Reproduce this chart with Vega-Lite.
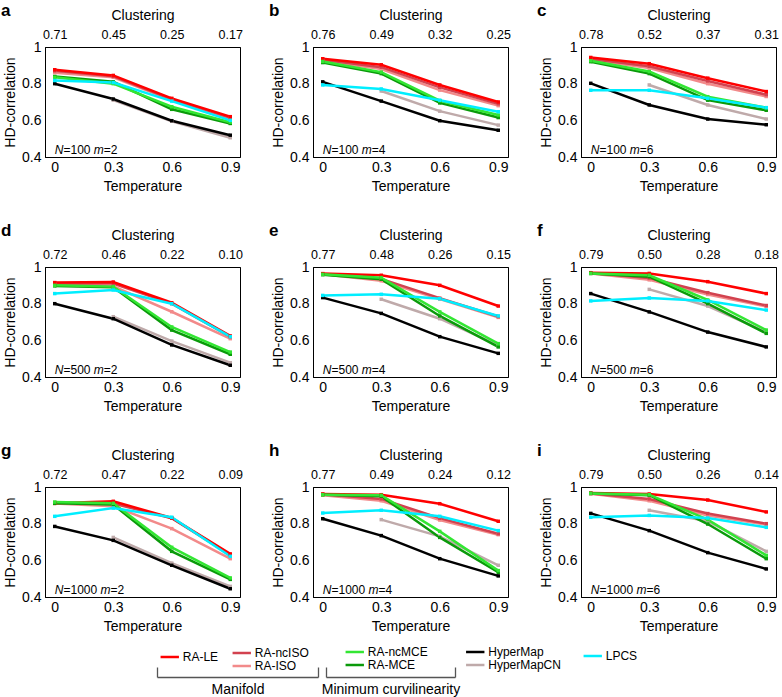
{
"$schema":"https://vega.github.io/schema/vega-lite/v6.json",
"padding":{"left":0,"top":1,"right":0,"bottom":0},
"bounds":"flush",
"spacing":220,
"datasets":{"main":[
{"p":"a","m":"HyperMapCN","T":0.3,"r":0.71},{"p":"a","m":"HyperMapCN","T":0.6,"r":0.595},{"p":"a","m":"HyperMapCN","T":0.9,"r":0.505},
{"p":"a","m":"HyperMap","T":0,"r":0.80},{"p":"a","m":"HyperMap","T":0.3,"r":0.716},{"p":"a","m":"HyperMap","T":0.6,"r":0.598},{"p":"a","m":"HyperMap","T":0.9,"r":0.519},
{"p":"a","m":"RA-ISO","T":0,"r":0.86},{"p":"a","m":"RA-ISO","T":0.3,"r":0.835},{"p":"a","m":"RA-ISO","T":0.6,"r":0.71},{"p":"a","m":"RA-ISO","T":0.9,"r":0.61},
{"p":"a","m":"RA-ncISO","T":0,"r":0.87},{"p":"a","m":"RA-ncISO","T":0.3,"r":0.84},{"p":"a","m":"RA-ncISO","T":0.6,"r":0.715},{"p":"a","m":"RA-ncISO","T":0.9,"r":0.615},
{"p":"a","m":"RA-LE","T":0,"r":0.876},{"p":"a","m":"RA-LE","T":0.3,"r":0.845},{"p":"a","m":"RA-LE","T":0.6,"r":0.72},{"p":"a","m":"RA-LE","T":0.9,"r":0.62},
{"p":"a","m":"RA-MCE","T":0,"r":0.839},{"p":"a","m":"RA-MCE","T":0.3,"r":0.81},{"p":"a","m":"RA-MCE","T":0.6,"r":0.66},{"p":"a","m":"RA-MCE","T":0.9,"r":0.583},
{"p":"a","m":"RA-ncMCE","T":0,"r":0.835},{"p":"a","m":"RA-ncMCE","T":0.3,"r":0.80},{"p":"a","m":"RA-ncMCE","T":0.6,"r":0.674},{"p":"a","m":"RA-ncMCE","T":0.9,"r":0.59},
{"p":"a","m":"LPCS","T":0,"r":0.817},{"p":"a","m":"LPCS","T":0.3,"r":0.806},{"p":"a","m":"LPCS","T":0.6,"r":0.705},{"p":"a","m":"LPCS","T":0.9,"r":0.60},
{"p":"b","m":"HyperMapCN","T":0.3,"r":0.76},{"p":"b","m":"HyperMapCN","T":0.6,"r":0.65},{"p":"b","m":"HyperMapCN","T":0.9,"r":0.574},
{"p":"b","m":"HyperMap","T":0,"r":0.81},{"p":"b","m":"HyperMap","T":0.3,"r":0.705},{"p":"b","m":"HyperMap","T":0.6,"r":0.598},{"p":"b","m":"HyperMap","T":0.9,"r":0.546},
{"p":"b","m":"RA-ISO","T":0,"r":0.925},{"p":"b","m":"RA-ISO","T":0.3,"r":0.88},{"p":"b","m":"RA-ISO","T":0.6,"r":0.765},{"p":"b","m":"RA-ISO","T":0.9,"r":0.68},
{"p":"b","m":"RA-ncISO","T":0,"r":0.93},{"p":"b","m":"RA-ncISO","T":0.3,"r":0.89},{"p":"b","m":"RA-ncISO","T":0.6,"r":0.78},{"p":"b","m":"RA-ncISO","T":0.9,"r":0.69},
{"p":"b","m":"RA-LE","T":0,"r":0.936},{"p":"b","m":"RA-LE","T":0.3,"r":0.903},{"p":"b","m":"RA-LE","T":0.6,"r":0.793},{"p":"b","m":"RA-LE","T":0.9,"r":0.70},
{"p":"b","m":"RA-MCE","T":0,"r":0.915},{"p":"b","m":"RA-MCE","T":0.3,"r":0.855},{"p":"b","m":"RA-MCE","T":0.6,"r":0.695},{"p":"b","m":"RA-MCE","T":0.9,"r":0.615},
{"p":"b","m":"RA-ncMCE","T":0,"r":0.921},{"p":"b","m":"RA-ncMCE","T":0.3,"r":0.863},{"p":"b","m":"RA-ncMCE","T":0.6,"r":0.707},{"p":"b","m":"RA-ncMCE","T":0.9,"r":0.629},
{"p":"b","m":"LPCS","T":0,"r":0.793},{"p":"b","m":"LPCS","T":0.3,"r":0.771},{"p":"b","m":"LPCS","T":0.6,"r":0.71},{"p":"b","m":"LPCS","T":0.9,"r":0.647},
{"p":"c","m":"HyperMapCN","T":0.3,"r":0.793},{"p":"c","m":"HyperMapCN","T":0.6,"r":0.684},{"p":"c","m":"HyperMapCN","T":0.9,"r":0.607},
{"p":"c","m":"HyperMap","T":0,"r":0.802},{"p":"c","m":"HyperMap","T":0.3,"r":0.684},{"p":"c","m":"HyperMap","T":0.6,"r":0.607},{"p":"c","m":"HyperMap","T":0.9,"r":0.576},
{"p":"c","m":"RA-ISO","T":0,"r":0.93},{"p":"c","m":"RA-ISO","T":0.3,"r":0.885},{"p":"c","m":"RA-ISO","T":0.6,"r":0.80},{"p":"c","m":"RA-ISO","T":0.9,"r":0.73},
{"p":"c","m":"RA-ncISO","T":0,"r":0.935},{"p":"c","m":"RA-ncISO","T":0.3,"r":0.895},{"p":"c","m":"RA-ncISO","T":0.6,"r":0.815},{"p":"c","m":"RA-ncISO","T":0.9,"r":0.74},
{"p":"c","m":"RA-LE","T":0,"r":0.943},{"p":"c","m":"RA-LE","T":0.3,"r":0.909},{"p":"c","m":"RA-LE","T":0.6,"r":0.83},{"p":"c","m":"RA-LE","T":0.9,"r":0.757},
{"p":"c","m":"RA-MCE","T":0,"r":0.92},{"p":"c","m":"RA-MCE","T":0.3,"r":0.855},{"p":"c","m":"RA-MCE","T":0.6,"r":0.71},{"p":"c","m":"RA-MCE","T":0.9,"r":0.655},
{"p":"c","m":"RA-ncMCE","T":0,"r":0.925},{"p":"c","m":"RA-ncMCE","T":0.3,"r":0.866},{"p":"c","m":"RA-ncMCE","T":0.6,"r":0.729},{"p":"c","m":"RA-ncMCE","T":0.9,"r":0.669},
{"p":"c","m":"LPCS","T":0,"r":0.764},{"p":"c","m":"LPCS","T":0.3,"r":0.764},{"p":"c","m":"LPCS","T":0.6,"r":0.72},{"p":"c","m":"LPCS","T":0.9,"r":0.669},
{"p":"d","m":"HyperMapCN","T":0.3,"r":0.729},{"p":"d","m":"HyperMapCN","T":0.6,"r":0.596},{"p":"d","m":"HyperMapCN","T":0.9,"r":0.478},
{"p":"d","m":"HyperMap","T":0,"r":0.80},{"p":"d","m":"HyperMap","T":0.3,"r":0.718},{"p":"d","m":"HyperMap","T":0.6,"r":0.575},{"p":"d","m":"HyperMap","T":0.9,"r":0.464},
{"p":"d","m":"RA-ISO","T":0,"r":0.905},{"p":"d","m":"RA-ISO","T":0.3,"r":0.895},{"p":"d","m":"RA-ISO","T":0.6,"r":0.756},{"p":"d","m":"RA-ISO","T":0.9,"r":0.609},
{"p":"d","m":"RA-ncISO","T":0,"r":0.91},{"p":"d","m":"RA-ncISO","T":0.3,"r":0.91},{"p":"d","m":"RA-ncISO","T":0.6,"r":0.80},{"p":"d","m":"RA-ncISO","T":0.9,"r":0.62},
{"p":"d","m":"RA-LE","T":0,"r":0.915},{"p":"d","m":"RA-LE","T":0.3,"r":0.918},{"p":"d","m":"RA-LE","T":0.6,"r":0.805},{"p":"d","m":"RA-LE","T":0.9,"r":0.624},
{"p":"d","m":"RA-MCE","T":0,"r":0.897},{"p":"d","m":"RA-MCE","T":0.3,"r":0.89},{"p":"d","m":"RA-MCE","T":0.6,"r":0.656},{"p":"d","m":"RA-MCE","T":0.9,"r":0.524},
{"p":"d","m":"RA-ncMCE","T":0,"r":0.90},{"p":"d","m":"RA-ncMCE","T":0.3,"r":0.893},{"p":"d","m":"RA-ncMCE","T":0.6,"r":0.673},{"p":"d","m":"RA-ncMCE","T":0.9,"r":0.536},
{"p":"d","m":"LPCS","T":0,"r":0.855},{"p":"d","m":"LPCS","T":0.3,"r":0.875},{"p":"d","m":"LPCS","T":0.6,"r":0.80},{"p":"d","m":"LPCS","T":0.9,"r":0.62},
{"p":"e","m":"HyperMapCN","T":0.3,"r":0.824},{"p":"e","m":"HyperMapCN","T":0.6,"r":0.718},{"p":"e","m":"HyperMapCN","T":0.9,"r":0.573},
{"p":"e","m":"HyperMap","T":0,"r":0.833},{"p":"e","m":"HyperMap","T":0.3,"r":0.747},{"p":"e","m":"HyperMap","T":0.6,"r":0.62},{"p":"e","m":"HyperMap","T":0.9,"r":0.529},
{"p":"e","m":"RA-ISO","T":0,"r":0.96},{"p":"e","m":"RA-ISO","T":0.3,"r":0.925},{"p":"e","m":"RA-ISO","T":0.6,"r":0.825},{"p":"e","m":"RA-ISO","T":0.9,"r":0.725},
{"p":"e","m":"RA-ncISO","T":0,"r":0.962},{"p":"e","m":"RA-ncISO","T":0.3,"r":0.935},{"p":"e","m":"RA-ncISO","T":0.6,"r":0.83},{"p":"e","m":"RA-ncISO","T":0.9,"r":0.73},
{"p":"e","m":"RA-LE","T":0,"r":0.964},{"p":"e","m":"RA-LE","T":0.3,"r":0.955},{"p":"e","m":"RA-LE","T":0.6,"r":0.90},{"p":"e","m":"RA-LE","T":0.9,"r":0.787},
{"p":"e","m":"RA-MCE","T":0,"r":0.958},{"p":"e","m":"RA-MCE","T":0.3,"r":0.933},{"p":"e","m":"RA-MCE","T":0.6,"r":0.733},{"p":"e","m":"RA-MCE","T":0.9,"r":0.564},
{"p":"e","m":"RA-ncMCE","T":0,"r":0.96},{"p":"e","m":"RA-ncMCE","T":0.3,"r":0.942},{"p":"e","m":"RA-ncMCE","T":0.6,"r":0.755},{"p":"e","m":"RA-ncMCE","T":0.9,"r":0.582},
{"p":"e","m":"LPCS","T":0,"r":0.845},{"p":"e","m":"LPCS","T":0.3,"r":0.851},{"p":"e","m":"LPCS","T":0.6,"r":0.827},{"p":"e","m":"LPCS","T":0.9,"r":0.733},
{"p":"f","m":"HyperMapCN","T":0.3,"r":0.878},{"p":"f","m":"HyperMapCN","T":0.6,"r":0.787},{"p":"f","m":"HyperMapCN","T":0.9,"r":0.645},
{"p":"f","m":"HyperMap","T":0,"r":0.855},{"p":"f","m":"HyperMap","T":0.3,"r":0.755},{"p":"f","m":"HyperMap","T":0.6,"r":0.645},{"p":"f","m":"HyperMap","T":0.9,"r":0.564},
{"p":"f","m":"RA-ISO","T":0,"r":0.965},{"p":"f","m":"RA-ISO","T":0.3,"r":0.93},{"p":"f","m":"RA-ISO","T":0.6,"r":0.85},{"p":"f","m":"RA-ISO","T":0.9,"r":0.785},
{"p":"f","m":"RA-ncISO","T":0,"r":0.967},{"p":"f","m":"RA-ncISO","T":0.3,"r":0.94},{"p":"f","m":"RA-ncISO","T":0.6,"r":0.86},{"p":"f","m":"RA-ncISO","T":0.9,"r":0.79},
{"p":"f","m":"RA-LE","T":0,"r":0.969},{"p":"f","m":"RA-LE","T":0.3,"r":0.965},{"p":"f","m":"RA-LE","T":0.6,"r":0.92},{"p":"f","m":"RA-LE","T":0.9,"r":0.855},
{"p":"f","m":"RA-MCE","T":0,"r":0.965},{"p":"f","m":"RA-MCE","T":0.3,"r":0.947},{"p":"f","m":"RA-MCE","T":0.6,"r":0.80},{"p":"f","m":"RA-MCE","T":0.9,"r":0.638},
{"p":"f","m":"RA-ncMCE","T":0,"r":0.965},{"p":"f","m":"RA-ncMCE","T":0.3,"r":0.955},{"p":"f","m":"RA-ncMCE","T":0.6,"r":0.82},{"p":"f","m":"RA-ncMCE","T":0.9,"r":0.656},
{"p":"f","m":"LPCS","T":0,"r":0.815},{"p":"f","m":"LPCS","T":0.3,"r":0.831},{"p":"f","m":"LPCS","T":0.6,"r":0.815},{"p":"f","m":"LPCS","T":0.9,"r":0.765},
{"p":"g","m":"HyperMapCN","T":0.3,"r":0.725},{"p":"g","m":"HyperMapCN","T":0.6,"r":0.585},{"p":"g","m":"HyperMapCN","T":0.9,"r":0.458},
{"p":"g","m":"HyperMap","T":0,"r":0.785},{"p":"g","m":"HyperMap","T":0.3,"r":0.709},{"p":"g","m":"HyperMap","T":0.6,"r":0.573},{"p":"g","m":"HyperMap","T":0.9,"r":0.445},
{"p":"g","m":"RA-ISO","T":0,"r":0.91},{"p":"g","m":"RA-ISO","T":0.3,"r":0.895},{"p":"g","m":"RA-ISO","T":0.6,"r":0.773},{"p":"g","m":"RA-ISO","T":0.9,"r":0.609},
{"p":"g","m":"RA-ncISO","T":0,"r":0.915},{"p":"g","m":"RA-ncISO","T":0.3,"r":0.91},{"p":"g","m":"RA-ncISO","T":0.6,"r":0.83},{"p":"g","m":"RA-ncISO","T":0.9,"r":0.63},
{"p":"g","m":"RA-LE","T":0,"r":0.911},{"p":"g","m":"RA-LE","T":0.3,"r":0.922},{"p":"g","m":"RA-LE","T":0.6,"r":0.831},{"p":"g","m":"RA-LE","T":0.9,"r":0.635},
{"p":"g","m":"RA-MCE","T":0,"r":0.911},{"p":"g","m":"RA-MCE","T":0.3,"r":0.904},{"p":"g","m":"RA-MCE","T":0.6,"r":0.649},{"p":"g","m":"RA-MCE","T":0.9,"r":0.496},
{"p":"g","m":"RA-ncMCE","T":0,"r":0.918},{"p":"g","m":"RA-ncMCE","T":0.3,"r":0.911},{"p":"g","m":"RA-ncMCE","T":0.6,"r":0.671},{"p":"g","m":"RA-ncMCE","T":0.9,"r":0.504},
{"p":"g","m":"LPCS","T":0,"r":0.84},{"p":"g","m":"LPCS","T":0.3,"r":0.885},{"p":"g","m":"LPCS","T":0.6,"r":0.835},{"p":"g","m":"LPCS","T":0.9,"r":0.622},
{"p":"h","m":"HyperMapCN","T":0.3,"r":0.822},{"p":"h","m":"HyperMapCN","T":0.6,"r":0.731},{"p":"h","m":"HyperMapCN","T":0.9,"r":0.573},
{"p":"h","m":"HyperMap","T":0,"r":0.827},{"p":"h","m":"HyperMap","T":0.3,"r":0.735},{"p":"h","m":"HyperMap","T":0.6,"r":0.609},{"p":"h","m":"HyperMap","T":0.9,"r":0.515},
{"p":"h","m":"RA-ISO","T":0,"r":0.955},{"p":"h","m":"RA-ISO","T":0.3,"r":0.925},{"p":"h","m":"RA-ISO","T":0.6,"r":0.82},{"p":"h","m":"RA-ISO","T":0.9,"r":0.74},
{"p":"h","m":"RA-ncISO","T":0,"r":0.96},{"p":"h","m":"RA-ncISO","T":0.3,"r":0.935},{"p":"h","m":"RA-ncISO","T":0.6,"r":0.83},{"p":"h","m":"RA-ncISO","T":0.9,"r":0.745},
{"p":"h","m":"RA-LE","T":0,"r":0.962},{"p":"h","m":"RA-LE","T":0.3,"r":0.958},{"p":"h","m":"RA-LE","T":0.6,"r":0.909},{"p":"h","m":"RA-LE","T":0.9,"r":0.813},
{"p":"h","m":"RA-MCE","T":0,"r":0.958},{"p":"h","m":"RA-MCE","T":0.3,"r":0.95},{"p":"h","m":"RA-MCE","T":0.6,"r":0.725},{"p":"h","m":"RA-MCE","T":0.9,"r":0.535},
{"p":"h","m":"RA-ncMCE","T":0,"r":0.958},{"p":"h","m":"RA-ncMCE","T":0.3,"r":0.955},{"p":"h","m":"RA-ncMCE","T":0.6,"r":0.758},{"p":"h","m":"RA-ncMCE","T":0.9,"r":0.544},
{"p":"h","m":"LPCS","T":0,"r":0.858},{"p":"h","m":"LPCS","T":0.3,"r":0.873},{"p":"h","m":"LPCS","T":0.6,"r":0.84},{"p":"h","m":"LPCS","T":0.9,"r":0.762},
{"p":"i","m":"HyperMapCN","T":0.3,"r":0.873},{"p":"i","m":"HyperMapCN","T":0.6,"r":0.813},{"p":"i","m":"HyperMapCN","T":0.9,"r":0.649},
{"p":"i","m":"HyperMap","T":0,"r":0.856},{"p":"i","m":"HyperMap","T":0.3,"r":0.762},{"p":"i","m":"HyperMap","T":0.6,"r":0.642},{"p":"i","m":"HyperMap","T":0.9,"r":0.553},
{"p":"i","m":"RA-ISO","T":0,"r":0.963},{"p":"i","m":"RA-ISO","T":0.3,"r":0.925},{"p":"i","m":"RA-ISO","T":0.6,"r":0.845},{"p":"i","m":"RA-ISO","T":0.9,"r":0.795},
{"p":"i","m":"RA-ncISO","T":0,"r":0.965},{"p":"i","m":"RA-ncISO","T":0.3,"r":0.935},{"p":"i","m":"RA-ncISO","T":0.6,"r":0.855},{"p":"i","m":"RA-ncISO","T":0.9,"r":0.80},
{"p":"i","m":"RA-LE","T":0,"r":0.967},{"p":"i","m":"RA-LE","T":0.3,"r":0.962},{"p":"i","m":"RA-LE","T":0.6,"r":0.929},{"p":"i","m":"RA-LE","T":0.9,"r":0.864},
{"p":"i","m":"RA-MCE","T":0,"r":0.965},{"p":"i","m":"RA-MCE","T":0.3,"r":0.955},{"p":"i","m":"RA-MCE","T":0.6,"r":0.798},{"p":"i","m":"RA-MCE","T":0.9,"r":0.609},
{"p":"i","m":"RA-ncMCE","T":0,"r":0.965},{"p":"i","m":"RA-ncMCE","T":0.3,"r":0.958},{"p":"i","m":"RA-ncMCE","T":0.6,"r":0.822},{"p":"i","m":"RA-ncMCE","T":0.9,"r":0.627},
{"p":"i","m":"LPCS","T":0,"r":0.835},{"p":"i","m":"LPCS","T":0.3,"r":0.845},{"p":"i","m":"LPCS","T":0.6,"r":0.831},{"p":"i","m":"LPCS","T":0.9,"r":0.78}
]},
"vconcat":[
{"hconcat":[
{"title":"a","width":195,"height":110,"data":{"values":[{"a":"N","b":"=100","c":"m","d":"=2"}]},"layer":[
 {"data":{"name":"main"},"transform":[{"filter":"datum.p=='a'"}],"mark":{"type":"line","strokeWidth":2.5},"encoding":{"x":{"field":"T","type":"quantitative","scale":{"domain":[-0.05,0.95],"nice":false,"zero":false},"axis":{"orient":"bottom","title":"Temperature","values":[0,0.3,0.6,0.9],"format":"~g"}},"y":{"field":"r","type":"quantitative","scale":{"domain":[0.4,1],"nice":false,"zero":false},"axis":{"orient":"left","title":"HD-correlation","values":[0.4,0.6,0.8,1],"format":"~g"}},"color":{"field":"m","type":"nominal","scale":{"domain":["RA-LE","RA-ncISO","RA-ISO","RA-ncMCE","RA-MCE","HyperMap","HyperMapCN","LPCS"],"range":["#ff0000","#d2424f","#f28a8a","#33e633","#0a9a0a","#000000","#bfaaaa","#00eeff"]},"legend":null}}},
 {"data":{"name":"main"},"transform":[{"filter":"datum.p=='a'"}],"mark":{"type":"square","size":12,"opacity":1},"encoding":{"x":{"field":"T","type":"quantitative","scale":{"domain":[-0.05,0.95],"nice":false,"zero":false},"axis":{"orient":"top","title":"Clustering","values":[0,0.3,0.6,0.9],"format":"~g","labelExpr":"datum.label=='0'?'0.71':datum.label=='0.3'?'0.45':datum.label=='0.6'?'0.25':'0.17'"}},"y":{"field":"r","type":"quantitative","scale":{"domain":[0.4,1],"nice":false,"zero":false},"axis":null},"color":{"field":"m","type":"nominal","legend":null}}},
 {"mark":{"type":"text","align":"left","fontSize":12,"fontStyle":"italic"},"encoding":{"x":{"datum":0,"type":"quantitative","scale":{"domain":[-0.05,0.95],"nice":false,"zero":false},"axis":null},"y":{"datum":0.44,"type":"quantitative","scale":{"domain":[0.4,1],"nice":false,"zero":false},"axis":null},"text":{"field":"a"}}},
 {"mark":{"type":"text","align":"left","fontSize":12,"dx":8.7},"encoding":{"x":{"datum":0,"type":"quantitative","scale":{"domain":[-0.05,0.95],"nice":false,"zero":false},"axis":null},"y":{"datum":0.44,"type":"quantitative","scale":{"domain":[0.4,1],"nice":false,"zero":false},"axis":null},"text":{"field":"b"}}},
 {"mark":{"type":"text","align":"left","fontSize":12,"dx":39.1,"fontStyle":"italic"},"encoding":{"x":{"datum":0,"type":"quantitative","scale":{"domain":[-0.05,0.95],"nice":false,"zero":false},"axis":null},"y":{"datum":0.44,"type":"quantitative","scale":{"domain":[0.4,1],"nice":false,"zero":false},"axis":null},"text":{"field":"c"}}},
 {"mark":{"type":"text","align":"left","fontSize":12,"dx":49.1},"encoding":{"x":{"datum":0,"type":"quantitative","scale":{"domain":[-0.05,0.95],"nice":false,"zero":false},"axis":null},"y":{"datum":0.44,"type":"quantitative","scale":{"domain":[0.4,1],"nice":false,"zero":false},"axis":null},"text":{"field":"d"}}}
],"resolve":{"axis":{"x":"independent","y":"independent"}}},
{"title":"b","width":195,"height":110,"data":{"values":[{"a":"N","b":"=100","c":"m","d":"=4"}]},"layer":[
 {"data":{"name":"main"},"transform":[{"filter":"datum.p=='b'"}],"mark":{"type":"line","strokeWidth":2.5},"encoding":{"x":{"field":"T","type":"quantitative","scale":{"domain":[-0.05,0.95],"nice":false,"zero":false},"axis":{"orient":"bottom","title":"Temperature","values":[0,0.3,0.6,0.9],"format":"~g"}},"y":{"field":"r","type":"quantitative","scale":{"domain":[0.4,1],"nice":false,"zero":false},"axis":{"orient":"left","title":"HD-correlation","values":[0.4,0.6,0.8,1],"format":"~g"}},"color":{"field":"m","type":"nominal","scale":{"domain":["RA-LE","RA-ncISO","RA-ISO","RA-ncMCE","RA-MCE","HyperMap","HyperMapCN","LPCS"],"range":["#ff0000","#d2424f","#f28a8a","#33e633","#0a9a0a","#000000","#bfaaaa","#00eeff"]},"legend":null}}},
 {"data":{"name":"main"},"transform":[{"filter":"datum.p=='b'"}],"mark":{"type":"square","size":12,"opacity":1},"encoding":{"x":{"field":"T","type":"quantitative","scale":{"domain":[-0.05,0.95],"nice":false,"zero":false},"axis":{"orient":"top","title":"Clustering","values":[0,0.3,0.6,0.9],"format":"~g","labelExpr":"datum.label=='0'?'0.76':datum.label=='0.3'?'0.49':datum.label=='0.6'?'0.32':'0.25'"}},"y":{"field":"r","type":"quantitative","scale":{"domain":[0.4,1],"nice":false,"zero":false},"axis":null},"color":{"field":"m","type":"nominal","legend":null}}},
 {"mark":{"type":"text","align":"left","fontSize":12,"fontStyle":"italic"},"encoding":{"x":{"datum":0,"type":"quantitative","scale":{"domain":[-0.05,0.95],"nice":false,"zero":false},"axis":null},"y":{"datum":0.44,"type":"quantitative","scale":{"domain":[0.4,1],"nice":false,"zero":false},"axis":null},"text":{"field":"a"}}},
 {"mark":{"type":"text","align":"left","fontSize":12,"dx":8.7},"encoding":{"x":{"datum":0,"type":"quantitative","scale":{"domain":[-0.05,0.95],"nice":false,"zero":false},"axis":null},"y":{"datum":0.44,"type":"quantitative","scale":{"domain":[0.4,1],"nice":false,"zero":false},"axis":null},"text":{"field":"b"}}},
 {"mark":{"type":"text","align":"left","fontSize":12,"dx":39.1,"fontStyle":"italic"},"encoding":{"x":{"datum":0,"type":"quantitative","scale":{"domain":[-0.05,0.95],"nice":false,"zero":false},"axis":null},"y":{"datum":0.44,"type":"quantitative","scale":{"domain":[0.4,1],"nice":false,"zero":false},"axis":null},"text":{"field":"c"}}},
 {"mark":{"type":"text","align":"left","fontSize":12,"dx":49.1},"encoding":{"x":{"datum":0,"type":"quantitative","scale":{"domain":[-0.05,0.95],"nice":false,"zero":false},"axis":null},"y":{"datum":0.44,"type":"quantitative","scale":{"domain":[0.4,1],"nice":false,"zero":false},"axis":null},"text":{"field":"d"}}}
],"resolve":{"axis":{"x":"independent","y":"independent"}}},
{"title":"c","width":195,"height":110,"data":{"values":[{"a":"N","b":"=100","c":"m","d":"=6"}]},"layer":[
 {"data":{"name":"main"},"transform":[{"filter":"datum.p=='c'"}],"mark":{"type":"line","strokeWidth":2.5},"encoding":{"x":{"field":"T","type":"quantitative","scale":{"domain":[-0.05,0.95],"nice":false,"zero":false},"axis":{"orient":"bottom","title":"Temperature","values":[0,0.3,0.6,0.9],"format":"~g"}},"y":{"field":"r","type":"quantitative","scale":{"domain":[0.4,1],"nice":false,"zero":false},"axis":{"orient":"left","title":"HD-correlation","values":[0.4,0.6,0.8,1],"format":"~g"}},"color":{"field":"m","type":"nominal","scale":{"domain":["RA-LE","RA-ncISO","RA-ISO","RA-ncMCE","RA-MCE","HyperMap","HyperMapCN","LPCS"],"range":["#ff0000","#d2424f","#f28a8a","#33e633","#0a9a0a","#000000","#bfaaaa","#00eeff"]},"legend":null}}},
 {"data":{"name":"main"},"transform":[{"filter":"datum.p=='c'"}],"mark":{"type":"square","size":12,"opacity":1},"encoding":{"x":{"field":"T","type":"quantitative","scale":{"domain":[-0.05,0.95],"nice":false,"zero":false},"axis":{"orient":"top","title":"Clustering","values":[0,0.3,0.6,0.9],"format":"~g","labelExpr":"datum.label=='0'?'0.78':datum.label=='0.3'?'0.52':datum.label=='0.6'?'0.37':'0.31'"}},"y":{"field":"r","type":"quantitative","scale":{"domain":[0.4,1],"nice":false,"zero":false},"axis":null},"color":{"field":"m","type":"nominal","legend":null}}},
 {"mark":{"type":"text","align":"left","fontSize":12,"fontStyle":"italic"},"encoding":{"x":{"datum":0,"type":"quantitative","scale":{"domain":[-0.05,0.95],"nice":false,"zero":false},"axis":null},"y":{"datum":0.44,"type":"quantitative","scale":{"domain":[0.4,1],"nice":false,"zero":false},"axis":null},"text":{"field":"a"}}},
 {"mark":{"type":"text","align":"left","fontSize":12,"dx":8.7},"encoding":{"x":{"datum":0,"type":"quantitative","scale":{"domain":[-0.05,0.95],"nice":false,"zero":false},"axis":null},"y":{"datum":0.44,"type":"quantitative","scale":{"domain":[0.4,1],"nice":false,"zero":false},"axis":null},"text":{"field":"b"}}},
 {"mark":{"type":"text","align":"left","fontSize":12,"dx":39.1,"fontStyle":"italic"},"encoding":{"x":{"datum":0,"type":"quantitative","scale":{"domain":[-0.05,0.95],"nice":false,"zero":false},"axis":null},"y":{"datum":0.44,"type":"quantitative","scale":{"domain":[0.4,1],"nice":false,"zero":false},"axis":null},"text":{"field":"c"}}},
 {"mark":{"type":"text","align":"left","fontSize":12,"dx":49.1},"encoding":{"x":{"datum":0,"type":"quantitative","scale":{"domain":[-0.05,0.95],"nice":false,"zero":false},"axis":null},"y":{"datum":0.44,"type":"quantitative","scale":{"domain":[0.4,1],"nice":false,"zero":false},"axis":null},"text":{"field":"d"}}}
],"resolve":{"axis":{"x":"independent","y":"independent"}}}
],"spacing":73,"bounds":"flush"},
{"hconcat":[
{"title":"d","width":195,"height":110,"data":{"values":[{"a":"N","b":"=500","c":"m","d":"=2"}]},"layer":[
 {"data":{"name":"main"},"transform":[{"filter":"datum.p=='d'"}],"mark":{"type":"line","strokeWidth":2.5},"encoding":{"x":{"field":"T","type":"quantitative","scale":{"domain":[-0.05,0.95],"nice":false,"zero":false},"axis":{"orient":"bottom","title":"Temperature","values":[0,0.3,0.6,0.9],"format":"~g"}},"y":{"field":"r","type":"quantitative","scale":{"domain":[0.4,1],"nice":false,"zero":false},"axis":{"orient":"left","title":"HD-correlation","values":[0.4,0.6,0.8,1],"format":"~g"}},"color":{"field":"m","type":"nominal","scale":{"domain":["RA-LE","RA-ncISO","RA-ISO","RA-ncMCE","RA-MCE","HyperMap","HyperMapCN","LPCS"],"range":["#ff0000","#d2424f","#f28a8a","#33e633","#0a9a0a","#000000","#bfaaaa","#00eeff"]},"legend":null}}},
 {"data":{"name":"main"},"transform":[{"filter":"datum.p=='d'"}],"mark":{"type":"square","size":12,"opacity":1},"encoding":{"x":{"field":"T","type":"quantitative","scale":{"domain":[-0.05,0.95],"nice":false,"zero":false},"axis":{"orient":"top","title":"Clustering","values":[0,0.3,0.6,0.9],"format":"~g","labelExpr":"datum.label=='0'?'0.72':datum.label=='0.3'?'0.46':datum.label=='0.6'?'0.22':'0.10'"}},"y":{"field":"r","type":"quantitative","scale":{"domain":[0.4,1],"nice":false,"zero":false},"axis":null},"color":{"field":"m","type":"nominal","legend":null}}},
 {"mark":{"type":"text","align":"left","fontSize":12,"fontStyle":"italic"},"encoding":{"x":{"datum":0,"type":"quantitative","scale":{"domain":[-0.05,0.95],"nice":false,"zero":false},"axis":null},"y":{"datum":0.44,"type":"quantitative","scale":{"domain":[0.4,1],"nice":false,"zero":false},"axis":null},"text":{"field":"a"}}},
 {"mark":{"type":"text","align":"left","fontSize":12,"dx":8.7},"encoding":{"x":{"datum":0,"type":"quantitative","scale":{"domain":[-0.05,0.95],"nice":false,"zero":false},"axis":null},"y":{"datum":0.44,"type":"quantitative","scale":{"domain":[0.4,1],"nice":false,"zero":false},"axis":null},"text":{"field":"b"}}},
 {"mark":{"type":"text","align":"left","fontSize":12,"dx":39.1,"fontStyle":"italic"},"encoding":{"x":{"datum":0,"type":"quantitative","scale":{"domain":[-0.05,0.95],"nice":false,"zero":false},"axis":null},"y":{"datum":0.44,"type":"quantitative","scale":{"domain":[0.4,1],"nice":false,"zero":false},"axis":null},"text":{"field":"c"}}},
 {"mark":{"type":"text","align":"left","fontSize":12,"dx":49.1},"encoding":{"x":{"datum":0,"type":"quantitative","scale":{"domain":[-0.05,0.95],"nice":false,"zero":false},"axis":null},"y":{"datum":0.44,"type":"quantitative","scale":{"domain":[0.4,1],"nice":false,"zero":false},"axis":null},"text":{"field":"d"}}}
],"resolve":{"axis":{"x":"independent","y":"independent"}}},
{"title":"e","width":195,"height":110,"data":{"values":[{"a":"N","b":"=500","c":"m","d":"=4"}]},"layer":[
 {"data":{"name":"main"},"transform":[{"filter":"datum.p=='e'"}],"mark":{"type":"line","strokeWidth":2.5},"encoding":{"x":{"field":"T","type":"quantitative","scale":{"domain":[-0.05,0.95],"nice":false,"zero":false},"axis":{"orient":"bottom","title":"Temperature","values":[0,0.3,0.6,0.9],"format":"~g"}},"y":{"field":"r","type":"quantitative","scale":{"domain":[0.4,1],"nice":false,"zero":false},"axis":{"orient":"left","title":"HD-correlation","values":[0.4,0.6,0.8,1],"format":"~g"}},"color":{"field":"m","type":"nominal","scale":{"domain":["RA-LE","RA-ncISO","RA-ISO","RA-ncMCE","RA-MCE","HyperMap","HyperMapCN","LPCS"],"range":["#ff0000","#d2424f","#f28a8a","#33e633","#0a9a0a","#000000","#bfaaaa","#00eeff"]},"legend":null}}},
 {"data":{"name":"main"},"transform":[{"filter":"datum.p=='e'"}],"mark":{"type":"square","size":12,"opacity":1},"encoding":{"x":{"field":"T","type":"quantitative","scale":{"domain":[-0.05,0.95],"nice":false,"zero":false},"axis":{"orient":"top","title":"Clustering","values":[0,0.3,0.6,0.9],"format":"~g","labelExpr":"datum.label=='0'?'0.77':datum.label=='0.3'?'0.48':datum.label=='0.6'?'0.26':'0.15'"}},"y":{"field":"r","type":"quantitative","scale":{"domain":[0.4,1],"nice":false,"zero":false},"axis":null},"color":{"field":"m","type":"nominal","legend":null}}},
 {"mark":{"type":"text","align":"left","fontSize":12,"fontStyle":"italic"},"encoding":{"x":{"datum":0,"type":"quantitative","scale":{"domain":[-0.05,0.95],"nice":false,"zero":false},"axis":null},"y":{"datum":0.44,"type":"quantitative","scale":{"domain":[0.4,1],"nice":false,"zero":false},"axis":null},"text":{"field":"a"}}},
 {"mark":{"type":"text","align":"left","fontSize":12,"dx":8.7},"encoding":{"x":{"datum":0,"type":"quantitative","scale":{"domain":[-0.05,0.95],"nice":false,"zero":false},"axis":null},"y":{"datum":0.44,"type":"quantitative","scale":{"domain":[0.4,1],"nice":false,"zero":false},"axis":null},"text":{"field":"b"}}},
 {"mark":{"type":"text","align":"left","fontSize":12,"dx":39.1,"fontStyle":"italic"},"encoding":{"x":{"datum":0,"type":"quantitative","scale":{"domain":[-0.05,0.95],"nice":false,"zero":false},"axis":null},"y":{"datum":0.44,"type":"quantitative","scale":{"domain":[0.4,1],"nice":false,"zero":false},"axis":null},"text":{"field":"c"}}},
 {"mark":{"type":"text","align":"left","fontSize":12,"dx":49.1},"encoding":{"x":{"datum":0,"type":"quantitative","scale":{"domain":[-0.05,0.95],"nice":false,"zero":false},"axis":null},"y":{"datum":0.44,"type":"quantitative","scale":{"domain":[0.4,1],"nice":false,"zero":false},"axis":null},"text":{"field":"d"}}}
],"resolve":{"axis":{"x":"independent","y":"independent"}}},
{"title":"f","width":195,"height":110,"data":{"values":[{"a":"N","b":"=500","c":"m","d":"=6"}]},"layer":[
 {"data":{"name":"main"},"transform":[{"filter":"datum.p=='f'"}],"mark":{"type":"line","strokeWidth":2.5},"encoding":{"x":{"field":"T","type":"quantitative","scale":{"domain":[-0.05,0.95],"nice":false,"zero":false},"axis":{"orient":"bottom","title":"Temperature","values":[0,0.3,0.6,0.9],"format":"~g"}},"y":{"field":"r","type":"quantitative","scale":{"domain":[0.4,1],"nice":false,"zero":false},"axis":{"orient":"left","title":"HD-correlation","values":[0.4,0.6,0.8,1],"format":"~g"}},"color":{"field":"m","type":"nominal","scale":{"domain":["RA-LE","RA-ncISO","RA-ISO","RA-ncMCE","RA-MCE","HyperMap","HyperMapCN","LPCS"],"range":["#ff0000","#d2424f","#f28a8a","#33e633","#0a9a0a","#000000","#bfaaaa","#00eeff"]},"legend":null}}},
 {"data":{"name":"main"},"transform":[{"filter":"datum.p=='f'"}],"mark":{"type":"square","size":12,"opacity":1},"encoding":{"x":{"field":"T","type":"quantitative","scale":{"domain":[-0.05,0.95],"nice":false,"zero":false},"axis":{"orient":"top","title":"Clustering","values":[0,0.3,0.6,0.9],"format":"~g","labelExpr":"datum.label=='0'?'0.79':datum.label=='0.3'?'0.50':datum.label=='0.6'?'0.28':'0.18'"}},"y":{"field":"r","type":"quantitative","scale":{"domain":[0.4,1],"nice":false,"zero":false},"axis":null},"color":{"field":"m","type":"nominal","legend":null}}},
 {"mark":{"type":"text","align":"left","fontSize":12,"fontStyle":"italic"},"encoding":{"x":{"datum":0,"type":"quantitative","scale":{"domain":[-0.05,0.95],"nice":false,"zero":false},"axis":null},"y":{"datum":0.44,"type":"quantitative","scale":{"domain":[0.4,1],"nice":false,"zero":false},"axis":null},"text":{"field":"a"}}},
 {"mark":{"type":"text","align":"left","fontSize":12,"dx":8.7},"encoding":{"x":{"datum":0,"type":"quantitative","scale":{"domain":[-0.05,0.95],"nice":false,"zero":false},"axis":null},"y":{"datum":0.44,"type":"quantitative","scale":{"domain":[0.4,1],"nice":false,"zero":false},"axis":null},"text":{"field":"b"}}},
 {"mark":{"type":"text","align":"left","fontSize":12,"dx":39.1,"fontStyle":"italic"},"encoding":{"x":{"datum":0,"type":"quantitative","scale":{"domain":[-0.05,0.95],"nice":false,"zero":false},"axis":null},"y":{"datum":0.44,"type":"quantitative","scale":{"domain":[0.4,1],"nice":false,"zero":false},"axis":null},"text":{"field":"c"}}},
 {"mark":{"type":"text","align":"left","fontSize":12,"dx":49.1},"encoding":{"x":{"datum":0,"type":"quantitative","scale":{"domain":[-0.05,0.95],"nice":false,"zero":false},"axis":null},"y":{"datum":0.44,"type":"quantitative","scale":{"domain":[0.4,1],"nice":false,"zero":false},"axis":null},"text":{"field":"d"}}}
],"resolve":{"axis":{"x":"independent","y":"independent"}}}
],"spacing":73,"bounds":"flush"},
{"hconcat":[
{"title":"g","width":195,"height":110,"data":{"values":[{"a":"N","b":"=1000","c":"m","d":"=2"}]},"layer":[
 {"data":{"name":"main"},"transform":[{"filter":"datum.p=='g'"}],"mark":{"type":"line","strokeWidth":2.5},"encoding":{"x":{"field":"T","type":"quantitative","scale":{"domain":[-0.05,0.95],"nice":false,"zero":false},"axis":{"orient":"bottom","title":"Temperature","values":[0,0.3,0.6,0.9],"format":"~g"}},"y":{"field":"r","type":"quantitative","scale":{"domain":[0.4,1],"nice":false,"zero":false},"axis":{"orient":"left","title":"HD-correlation","values":[0.4,0.6,0.8,1],"format":"~g"}},"color":{"field":"m","type":"nominal","scale":{"domain":["RA-LE","RA-ncISO","RA-ISO","RA-ncMCE","RA-MCE","HyperMap","HyperMapCN","LPCS"],"range":["#ff0000","#d2424f","#f28a8a","#33e633","#0a9a0a","#000000","#bfaaaa","#00eeff"]},"legend":null}}},
 {"data":{"name":"main"},"transform":[{"filter":"datum.p=='g'"}],"mark":{"type":"square","size":12,"opacity":1},"encoding":{"x":{"field":"T","type":"quantitative","scale":{"domain":[-0.05,0.95],"nice":false,"zero":false},"axis":{"orient":"top","title":"Clustering","values":[0,0.3,0.6,0.9],"format":"~g","labelExpr":"datum.label=='0'?'0.72':datum.label=='0.3'?'0.47':datum.label=='0.6'?'0.22':'0.09'"}},"y":{"field":"r","type":"quantitative","scale":{"domain":[0.4,1],"nice":false,"zero":false},"axis":null},"color":{"field":"m","type":"nominal","legend":null}}},
 {"mark":{"type":"text","align":"left","fontSize":12,"fontStyle":"italic"},"encoding":{"x":{"datum":0,"type":"quantitative","scale":{"domain":[-0.05,0.95],"nice":false,"zero":false},"axis":null},"y":{"datum":0.44,"type":"quantitative","scale":{"domain":[0.4,1],"nice":false,"zero":false},"axis":null},"text":{"field":"a"}}},
 {"mark":{"type":"text","align":"left","fontSize":12,"dx":8.7},"encoding":{"x":{"datum":0,"type":"quantitative","scale":{"domain":[-0.05,0.95],"nice":false,"zero":false},"axis":null},"y":{"datum":0.44,"type":"quantitative","scale":{"domain":[0.4,1],"nice":false,"zero":false},"axis":null},"text":{"field":"b"}}},
 {"mark":{"type":"text","align":"left","fontSize":12,"dx":45.8,"fontStyle":"italic"},"encoding":{"x":{"datum":0,"type":"quantitative","scale":{"domain":[-0.05,0.95],"nice":false,"zero":false},"axis":null},"y":{"datum":0.44,"type":"quantitative","scale":{"domain":[0.4,1],"nice":false,"zero":false},"axis":null},"text":{"field":"c"}}},
 {"mark":{"type":"text","align":"left","fontSize":12,"dx":55.8},"encoding":{"x":{"datum":0,"type":"quantitative","scale":{"domain":[-0.05,0.95],"nice":false,"zero":false},"axis":null},"y":{"datum":0.44,"type":"quantitative","scale":{"domain":[0.4,1],"nice":false,"zero":false},"axis":null},"text":{"field":"d"}}}
],"resolve":{"axis":{"x":"independent","y":"independent"}}},
{"title":"h","width":195,"height":110,"data":{"values":[{"a":"N","b":"=1000","c":"m","d":"=4"}]},"layer":[
 {"data":{"name":"main"},"transform":[{"filter":"datum.p=='h'"}],"mark":{"type":"line","strokeWidth":2.5},"encoding":{"x":{"field":"T","type":"quantitative","scale":{"domain":[-0.05,0.95],"nice":false,"zero":false},"axis":{"orient":"bottom","title":"Temperature","values":[0,0.3,0.6,0.9],"format":"~g"}},"y":{"field":"r","type":"quantitative","scale":{"domain":[0.4,1],"nice":false,"zero":false},"axis":{"orient":"left","title":"HD-correlation","values":[0.4,0.6,0.8,1],"format":"~g"}},"color":{"field":"m","type":"nominal","scale":{"domain":["RA-LE","RA-ncISO","RA-ISO","RA-ncMCE","RA-MCE","HyperMap","HyperMapCN","LPCS"],"range":["#ff0000","#d2424f","#f28a8a","#33e633","#0a9a0a","#000000","#bfaaaa","#00eeff"]},"legend":null}}},
 {"data":{"name":"main"},"transform":[{"filter":"datum.p=='h'"}],"mark":{"type":"square","size":12,"opacity":1},"encoding":{"x":{"field":"T","type":"quantitative","scale":{"domain":[-0.05,0.95],"nice":false,"zero":false},"axis":{"orient":"top","title":"Clustering","values":[0,0.3,0.6,0.9],"format":"~g","labelExpr":"datum.label=='0'?'0.77':datum.label=='0.3'?'0.49':datum.label=='0.6'?'0.24':'0.12'"}},"y":{"field":"r","type":"quantitative","scale":{"domain":[0.4,1],"nice":false,"zero":false},"axis":null},"color":{"field":"m","type":"nominal","legend":null}}},
 {"mark":{"type":"text","align":"left","fontSize":12,"fontStyle":"italic"},"encoding":{"x":{"datum":0,"type":"quantitative","scale":{"domain":[-0.05,0.95],"nice":false,"zero":false},"axis":null},"y":{"datum":0.44,"type":"quantitative","scale":{"domain":[0.4,1],"nice":false,"zero":false},"axis":null},"text":{"field":"a"}}},
 {"mark":{"type":"text","align":"left","fontSize":12,"dx":8.7},"encoding":{"x":{"datum":0,"type":"quantitative","scale":{"domain":[-0.05,0.95],"nice":false,"zero":false},"axis":null},"y":{"datum":0.44,"type":"quantitative","scale":{"domain":[0.4,1],"nice":false,"zero":false},"axis":null},"text":{"field":"b"}}},
 {"mark":{"type":"text","align":"left","fontSize":12,"dx":45.8,"fontStyle":"italic"},"encoding":{"x":{"datum":0,"type":"quantitative","scale":{"domain":[-0.05,0.95],"nice":false,"zero":false},"axis":null},"y":{"datum":0.44,"type":"quantitative","scale":{"domain":[0.4,1],"nice":false,"zero":false},"axis":null},"text":{"field":"c"}}},
 {"mark":{"type":"text","align":"left","fontSize":12,"dx":55.8},"encoding":{"x":{"datum":0,"type":"quantitative","scale":{"domain":[-0.05,0.95],"nice":false,"zero":false},"axis":null},"y":{"datum":0.44,"type":"quantitative","scale":{"domain":[0.4,1],"nice":false,"zero":false},"axis":null},"text":{"field":"d"}}}
],"resolve":{"axis":{"x":"independent","y":"independent"}}},
{"title":"i","width":195,"height":110,"data":{"values":[{"a":"N","b":"=1000","c":"m","d":"=6"}]},"layer":[
 {"data":{"name":"main"},"transform":[{"filter":"datum.p=='i'"}],"mark":{"type":"line","strokeWidth":2.5},"encoding":{"x":{"field":"T","type":"quantitative","scale":{"domain":[-0.05,0.95],"nice":false,"zero":false},"axis":{"orient":"bottom","title":"Temperature","values":[0,0.3,0.6,0.9],"format":"~g"}},"y":{"field":"r","type":"quantitative","scale":{"domain":[0.4,1],"nice":false,"zero":false},"axis":{"orient":"left","title":"HD-correlation","values":[0.4,0.6,0.8,1],"format":"~g"}},"color":{"field":"m","type":"nominal","scale":{"domain":["RA-LE","RA-ncISO","RA-ISO","RA-ncMCE","RA-MCE","HyperMap","HyperMapCN","LPCS"],"range":["#ff0000","#d2424f","#f28a8a","#33e633","#0a9a0a","#000000","#bfaaaa","#00eeff"]},"legend":null}}},
 {"data":{"name":"main"},"transform":[{"filter":"datum.p=='i'"}],"mark":{"type":"square","size":12,"opacity":1},"encoding":{"x":{"field":"T","type":"quantitative","scale":{"domain":[-0.05,0.95],"nice":false,"zero":false},"axis":{"orient":"top","title":"Clustering","values":[0,0.3,0.6,0.9],"format":"~g","labelExpr":"datum.label=='0'?'0.79':datum.label=='0.3'?'0.50':datum.label=='0.6'?'0.26':'0.14'"}},"y":{"field":"r","type":"quantitative","scale":{"domain":[0.4,1],"nice":false,"zero":false},"axis":null},"color":{"field":"m","type":"nominal","legend":null}}},
 {"mark":{"type":"text","align":"left","fontSize":12,"fontStyle":"italic"},"encoding":{"x":{"datum":0,"type":"quantitative","scale":{"domain":[-0.05,0.95],"nice":false,"zero":false},"axis":null},"y":{"datum":0.44,"type":"quantitative","scale":{"domain":[0.4,1],"nice":false,"zero":false},"axis":null},"text":{"field":"a"}}},
 {"mark":{"type":"text","align":"left","fontSize":12,"dx":8.7},"encoding":{"x":{"datum":0,"type":"quantitative","scale":{"domain":[-0.05,0.95],"nice":false,"zero":false},"axis":null},"y":{"datum":0.44,"type":"quantitative","scale":{"domain":[0.4,1],"nice":false,"zero":false},"axis":null},"text":{"field":"b"}}},
 {"mark":{"type":"text","align":"left","fontSize":12,"dx":45.8,"fontStyle":"italic"},"encoding":{"x":{"datum":0,"type":"quantitative","scale":{"domain":[-0.05,0.95],"nice":false,"zero":false},"axis":null},"y":{"datum":0.44,"type":"quantitative","scale":{"domain":[0.4,1],"nice":false,"zero":false},"axis":null},"text":{"field":"c"}}},
 {"mark":{"type":"text","align":"left","fontSize":12,"dx":55.8},"encoding":{"x":{"datum":0,"type":"quantitative","scale":{"domain":[-0.05,0.95],"nice":false,"zero":false},"axis":null},"y":{"datum":0.44,"type":"quantitative","scale":{"domain":[0.4,1],"nice":false,"zero":false},"axis":null},"text":{"field":"d"}}}
],"resolve":{"axis":{"x":"independent","y":"independent"}}}
],"spacing":73,"bounds":"flush"},
{"hconcat":[
 {"width":273,"height":10,"view":{"stroke":null},"data":{"name":"main"},"transform":[{"filter":"false"}],"layer":[
  {"mark":"line","encoding":{
    "x":{"field":"T","type":"quantitative","scale":{"domain":[0,1],"range":[112,273]},"axis":{"orient":"top","offset":30,"title":"Manifold","values":[0,1],"labels":false,"ticks":true,"tickSize":10,"tickColor":"#555555","tickWidth":1.3,"domainColor":"#555555","domainWidth":1.3,"titleY":12,"titleBaseline":"middle","titleFontSize":14,"titlePadding":0}},
    "color":{"field":"m","type":"nominal","scale":{"domain":["RA-LE"],"range":["#ff0000"]},"legend":{"title":null,"orient":"none","legendX":117.75,"legendY":-57}}}},
  {"mark":"line","encoding":{
    "color":{"field":"m","type":"nominal","scale":{"domain":["RA-ncISO","RA-ISO"],"range":["#d2424f","#f28a8a"]},"legend":{"title":null,"orient":"none","legendX":189.75,"legendY":-61}}}}
 ],"resolve":{"scale":{"color":"independent"}}},
 {"width":129,"height":10,"view":{"stroke":null},"data":{"name":"main"},"transform":[{"filter":"false"}],"layer":[
  {"mark":"line","encoding":{
    "x":{"field":"T","type":"quantitative","scale":{"domain":[0,1]},"axis":{"orient":"top","offset":30,"title":"Minimum curvilinearity","values":[0,1],"labels":false,"ticks":true,"tickSize":10,"tickColor":"#555555","tickWidth":1.3,"domainColor":"#555555","domainWidth":1.3,"titleY":12,"titleBaseline":"middle","titleFontSize":14,"titlePadding":0}},
    "color":{"field":"m","type":"nominal","scale":{"domain":["RA-ncMCE","RA-MCE"],"range":["#33e633","#0a9a0a"]},"legend":{"title":null,"orient":"none","legendX":21.75,"legendY":-62}}}},
  {"mark":"line","encoding":{
    "color":{"field":"m","type":"nominal","scale":{"domain":["HyperMap","HyperMapCN"],"range":["#000000","#bfaaaa"]},"legend":{"title":null,"orient":"none","legendX":142.25,"legendY":-62}}}},
  {"mark":"line","encoding":{
    "color":{"field":"m","type":"nominal","scale":{"domain":["LPCS"],"range":["#00eeff"]},"legend":{"title":null,"orient":"none","legendX":259.75,"legendY":-58}}}}
 ],"resolve":{"scale":{"color":"independent"}}}
],"spacing":8,"bounds":"flush","resolve":{"scale":{"color":"independent"}}}
],
"resolve":{"scale":{"color":"independent"}},
"config":{
 "font":"Liberation Sans",
 "view":{"stroke":"black","strokeWidth":1},
 "title":{"anchor":"start","frame":"group","fontSize":17,"fontWeight":"bold","color":"black","dx":-44,"dy":16,"offset":0},
 "axis":{"grid":false,"ticks":false,"domainColor":"black","labelColor":"black","titleColor":"black","labelFontSize":14,"titleFontSize":14,"titleFontWeight":"normal","labelFlush":false,"labelOverlap":false},
 "axisBottom":{"labelPadding":3,"titlePadding":5},
 "axisTop":{"labelPadding":6,"titlePadding":6,"labelFontSize":12.5},
 "axisLeft":{"labelPadding":4,"titlePadding":4},
 "legend":{"labelFontSize":12,"labelColor":"black","symbolType":"M-1.6,0H1.6","symbolSize":132,"symbolStrokeWidth":2.5,"rowPadding":0,"padding":0,"labelOffset":6}
}
}
